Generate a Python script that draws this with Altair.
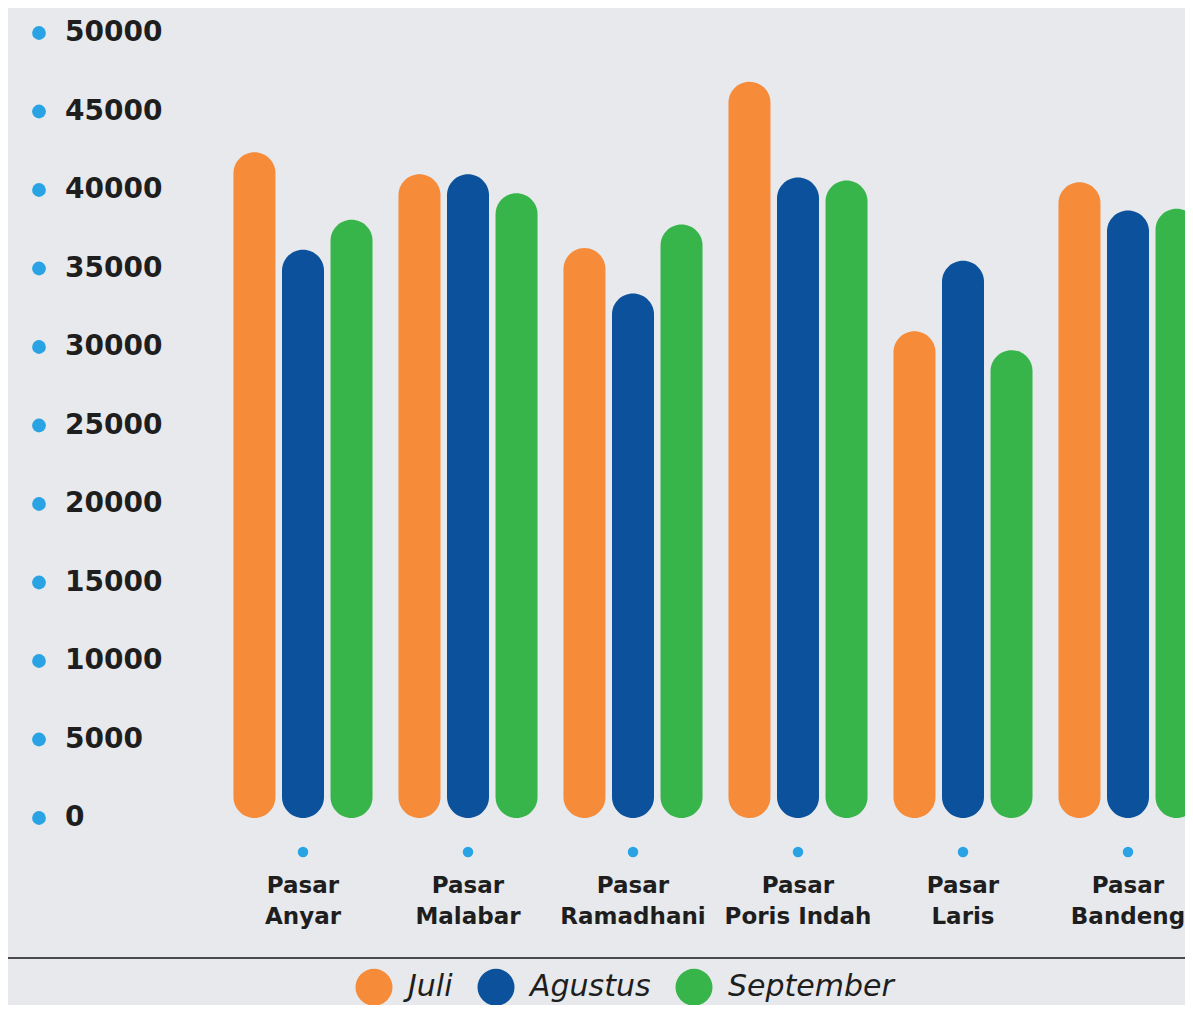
import altair as alt
import pandas as pd

markets = ["Pasar Anyar", "Pasar Malabar", "Pasar Ramadhani", "Pasar Poris Indah", "Pasar Laris", "Pasar Bandeng"]
market_labels = ["Pasar\nAnyar", "Pasar\nMalabar", "Pasar\nRamadhani", "Pasar\nPoris Indah", "Pasar\nLaris", "Pasar\nBandeng"]
months = ["Juli", "Agustus", "September"]
juli = [42400, 41000, 36300, 46900, 31000, 40500]
agustus = [36200, 41000, 33400, 40800, 35500, 38700]
september = [38100, 39800, 37800, 40600, 29800, 38800]
y_ticks = [0, 5000, 10000, 15000, 20000, 25000, 30000, 35000, 40000, 45000, 50000]

colors = ["#F68B3A", "#0B519C", "#38B54A"]
dot_color = "#2AA3E4"
FONT = "DejaVu Sans"
TEXT_COLOR = "#1e1e1e"

rows = []
for i, m in enumerate(markets):
    for mon, series in zip(months, [juli, agustus, september]):
        rows.append({"market": m, "month": mon, "value": series[i]})
bars_df = pd.DataFrame(rows)
labels_df = pd.DataFrame({"market": markets, "label": market_labels})
ticks_df = pd.DataFrame({"tick": y_ticks, "label": [str(t) for t in y_ticks]})

W, H = 1177, 997
x_scale = alt.Scale(domain=markets, range=[212.5, 1202.5], paddingInner=0, paddingOuter=0)
y_scale = alt.Scale(domain=[0, 50000], range=[810, 25])

bars = alt.Chart(bars_df).mark_bar(width=42, cornerRadius=21).encode(
    x=alt.X("market:N", scale=x_scale, axis=None, sort=markets),
    xOffset=alt.XOffset("month:N", sort=months,
                        scale=alt.Scale(domain=months, paddingInner=0, paddingOuter=0.2)),
    y=alt.Y("value:Q", scale=y_scale, axis=None),
    y2=alt.datum(0),
    color=alt.Color("month:N", sort=months,
                    scale=alt.Scale(domain=months, range=colors),
                    legend=alt.Legend(
                        title=None, orient="none", direction="horizontal",
                        legendX=347, legendY=960,
                        symbolType="circle", symbolSize=1370, symbolStrokeWidth=0,
                        labelFont=FONT, labelFontSize=30, labelFontStyle="oblique",
                        labelColor=TEXT_COLOR, labelOffset=15, columnPadding=24,
                        labelLimit=400)),
)

x_dots = alt.Chart(labels_df).mark_point(filled=True, shape="circle", size=110, color=dot_color, opacity=1).encode(
    x=alt.X("market:N", scale=x_scale, axis=None, sort=markets),
    y=alt.value(844),
)

x_text = alt.Chart(labels_df).mark_text(
    font=FONT, fontSize=23, fontWeight="bold", color=TEXT_COLOR,
    align="center", baseline="alphabetic", lineBreak="\n", lineHeight=31,
).encode(
    x=alt.X("market:N", scale=x_scale, axis=None, sort=markets),
    y=alt.value(885),
    text="label:N",
)

y_dots = alt.Chart(ticks_df).mark_point(filled=True, shape="circle", size=190, color=dot_color, opacity=1).encode(
    x=alt.value(31),
    y=alt.Y("tick:Q", scale=y_scale, axis=None),
)

y_text = alt.Chart(ticks_df).mark_text(
    font=FONT, fontSize=28, fontWeight="bold", color=TEXT_COLOR,
    align="left", baseline="middle",
).encode(
    x=alt.value(57),
    y=alt.Y("tick:Q", scale=y_scale, axis=None),
    text="label:N",
)

rule = alt.Chart(labels_df.head(1)).mark_rule(color="#4a4a4a", strokeWidth=2).encode(
    x=alt.value(0), x2=alt.value(W), y=alt.value(950),
)

chart = alt.layer(bars, x_dots, x_text, y_dots, y_text, rule).properties(
    width=W, height=H,
    background="#E7E9EC",
    padding=0,
    autosize=alt.AutoSizeParams(type="none"),
).configure_view(stroke=None)

chart.save("out.html", embed_options={"renderer": "svg", "actions": False})
